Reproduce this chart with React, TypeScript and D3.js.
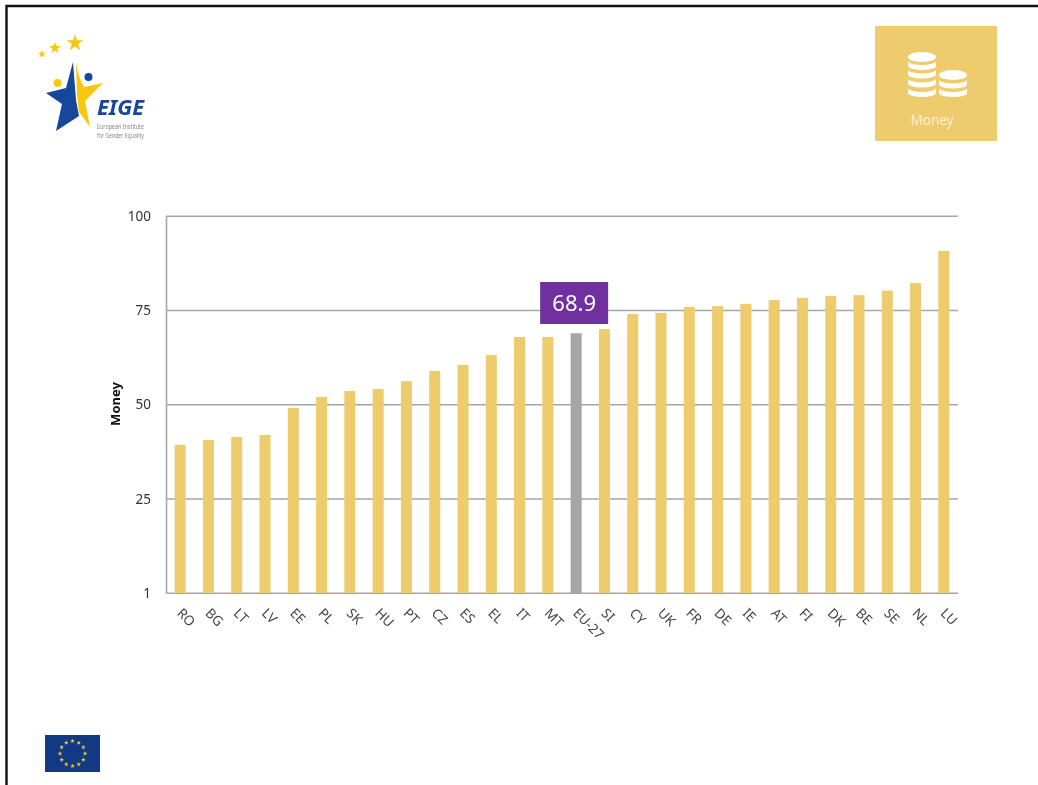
import React, { useEffect, useRef } from "react";
import * as d3 from "d3";

const countries = ["RO", "BG", "LT", "LV", "EE", "PL", "SK", "HU", "PT", "CZ", "ES", "EL", "IT", "MT", "EU-27", "SI", "CY", "UK", "FR", "DE", "IE", "AT", "FI", "DK", "BE", "SE", "NL", "LU"];
const scores = [39.3, 40.6, 41.4, 41.9, 49.1, 52, 53.6, 54.1, 56.2, 58.9, 60.5, 63.1, 67.9, 67.9, 68.9, 70, 74, 74.3, 75.9, 76.1, 76.7, 77.7, 78.3, 78.8, 79, 80.2, 82.2, 90.7];
// the original axis starts at a label of 1 but is spaced as if it were 0
const tickValues = [0, 25, 50, 75, 100];
const tickLabels = ["1", "25", "50", "75", "100"];
const highlight = "EU-27";
const highlightLabel = "68.9";

const GOLD = "#eecb6c";
const GREY = "#a6a6a6";
const FONT = "'Noto Sans', sans-serif";

export default function App() {
  const ref = useRef<SVGSVGElement | null>(null);

  useEffect(() => {
    const svg = d3.select(ref.current);
    svg.selectAll("*").remove();

    // slide frame, open on the right
    svg.append("path").attr("d", "M6.5,785V6H1038").attr("fill", "none").attr("stroke", "#111").attr("stroke-width", 2.4);

    const x = d3.scaleBand().domain(countries).range([166, 958]).paddingInner(0.61).paddingOuter(0.305);
    const y = d3.scaleLinear().domain([0, 100]).range([593, 216]);

    const yAxis = svg.append("g")
      .attr("transform", "translate(166,0)")
      .call(d3.axisLeft(y).tickValues(tickValues).tickSize(0).tickPadding(15).tickFormat((d, i) => tickLabels[i]));
    yAxis.select(".domain").attr("stroke", "#a6a6a6").attr("stroke-width", 1.6);
    yAxis.selectAll("text").attr("fill", "#333").style("font-family", FONT).style("font-size", "13.5px");

    svg.append("g")
      .selectAll("line")
      .data(tickValues)
      .enter()
      .append("line")
      .attr("x1", 166)
      .attr("x2", 958)
      .attr("y1", (d) => y(d) + 0.3)
      .attr("y2", (d) => y(d) + 0.3)
      .attr("stroke", "#a6a6a6")
      .attr("stroke-width", 1.6);

    svg.append("g")
      .selectAll("rect")
      .data(countries)
      .enter()
      .append("rect")
      .attr("x", (d) => x(d)!)
      .attr("width", x.bandwidth())
      .attr("y", (d, i) => y(scores[i]))
      .attr("height", (d, i) => y(0) - y(scores[i]))
      .attr("fill", (d) => (d === highlight ? GREY : GOLD));

    svg.append("g")
      .selectAll("text")
      .data(countries)
      .enter()
      .append("text")
      .attr("transform", (d) => `translate(${x(d)! + x.bandwidth() / 2 - 4},${614}) rotate(45)`)
      .attr("fill", "#444")
      .style("font-family", FONT)
      .style("font-size", "13.5px")
      .text((d) => d);

    svg.append("text")
      .attr("transform", "translate(119.5,404) rotate(-90)")
      .attr("text-anchor", "middle")
      .attr("fill", "#111")
      .style("font-family", FONT)
      .style("font-size", "13px")
      .style("font-weight", 700)
      .text("Money");

    // EU-27 callout
    const cx = x(highlight)! + x.bandwidth() / 2;
    svg.append("rect").attr("x", cx - 36).attr("y", 282).attr("width", 68).attr("height", 42).attr("fill", "#7030a0");
    svg.append("text")
      .attr("x", cx - 2)
      .attr("y", 311)
      .attr("text-anchor", "middle")
      .attr("fill", "#fff")
      .style("font-family", FONT)
      .style("font-size", "22px")
      .text(highlightLabel);

    // Money tile
    const tile = svg.append("g");
    tile.append("rect").attr("x", 875).attr("y", 26).attr("width", 122).attr("height", 115).attr("fill", GOLD);
    const coins = tile.append("g").attr("fill", "#fff");
    const band = (left: number, bottom: number) =>
      `M${left},${bottom - 9}v5a14,4 0 0,0 28,0v-5a14,4 0 0,1 -28,0Z`;
    coins.append("ellipse").attr("cx", 922).attr("cy", 57).attr("rx", 14).attr("ry", 5);
    [70, 78.5, 87.5, 97].forEach((b) => coins.append("path").attr("d", band(908, b)));
    coins.append("ellipse").attr("cx", 953).attr("cy", 75).attr("rx", 14).attr("ry", 5);
    [88.5, 97].forEach((b) => coins.append("path").attr("d", band(939, b)));
    tile.append("text")
      .attr("x", 932)
      .attr("y", 125)
      .attr("text-anchor", "middle")
      .attr("fill", "#fbf1d4")
      .style("font-family", FONT)
      .style("font-size", "13.5px")
      .text("Money");

    // EIGE logo
    const logo = svg.append("g");
    const star = d3.symbol().type(d3.symbolStar);
    [[75, 43, 90], [55, 48, 45], [42, 54, 22]].forEach(([sx, sy, size]) => {
      logo.append("path").attr("d", star.size(size)()!).attr("transform", `translate(${sx},${sy})`).attr("fill", "#f9c80e");
    });
    logo.append("path").attr("d", "M73,62L66,88L46,93L62,104L56,131L79,116L76,100Z").attr("fill", "#16479b");
    logo.append("path").attr("d", "M76,62C78,75 81,82 84,87L103,83L85,101L90,127L79,112L77,95Z").attr("fill", "#f9c80e");
    logo.append("circle").attr("cx", 57.5).attr("cy", 83).attr("r", 4).attr("fill", "#f9c80e");
    logo.append("circle").attr("cx", 88.5).attr("cy", 77).attr("r", 4).attr("fill", "#16479b");
    logo.append("text")
      .attr("x", 97)
      .attr("y", 114.5)
      .attr("textLength", 47)
      .attr("lengthAdjust", "spacingAndGlyphs")
      .attr("fill", "#16479b")
      .style("font-family", FONT)
      .style("font-size", "22px")
      .style("font-weight", 700)
      .style("font-style", "italic")
      .text("EIGE");
    ["European Institute", "for Gender Equality"].forEach((line, i) => {
      logo.append("text")
        .attr("x", 97)
        .attr("y", 128.5 + i * 9.5)
        .attr("textLength", 47)
        .attr("lengthAdjust", "spacingAndGlyphs")
        .attr("fill", "#888")
        .style("font-family", FONT)
        .style("font-size", "7px")
        .text(line);
    });

    // EU flag
    svg.append("rect").attr("x", 45).attr("y", 735).attr("width", 55).attr("height", 37).attr("fill", "#123a84");
    const flagStar = d3.symbol().type(d3.symbolStar).size(7);
    d3.range(12).forEach((i) => {
      const a = (i * Math.PI) / 6;
      svg.append("path")
        .attr("d", flagStar()!)
        .attr("transform", `translate(${72.5 + 12.5 * Math.sin(a)},${753.5 - 12.5 * Math.cos(a)})`)
        .attr("fill", "#f4d21f");
    });
  }, []);

  return <svg ref={ref} width={1038} height={785} style={{ position: "absolute", left: 0, top: 0, background: "#fff", filter: "blur(0.4px)" }} />;
}
